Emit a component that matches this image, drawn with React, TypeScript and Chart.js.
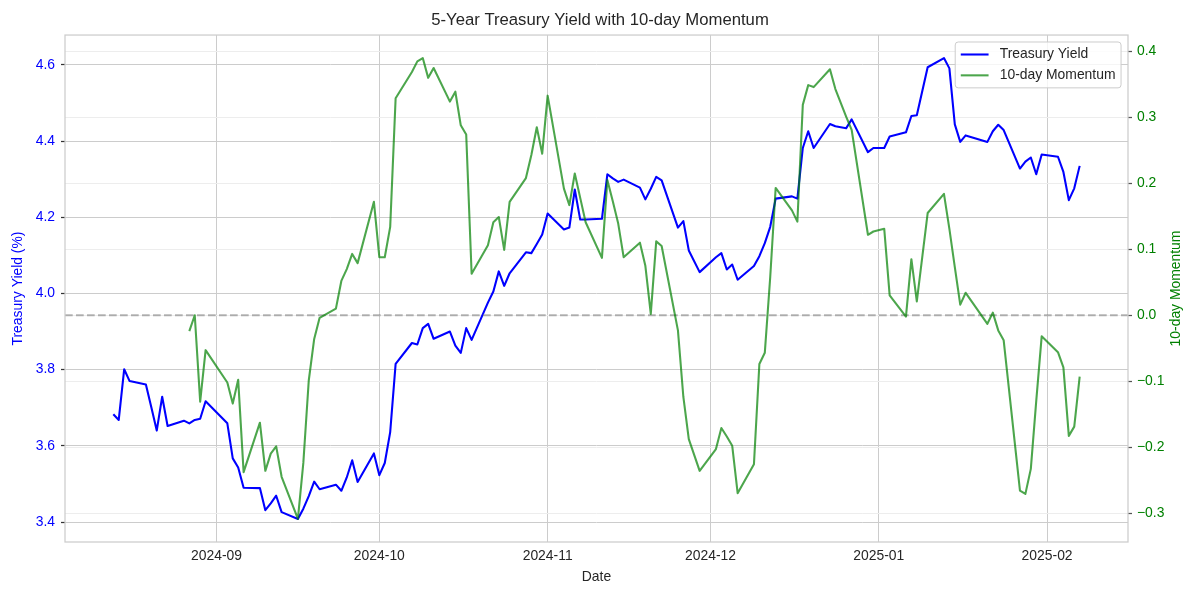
import React, { useEffect, useRef } from 'react';
import { Chart, registerables } from 'chart.js';

Chart.register(...registerables);

// ---------- data ----------
const dates: string[] = [
  '2024-08-13', '2024-08-14', '2024-08-15', '2024-08-16', '2024-08-19', '2024-08-20', '2024-08-21', '2024-08-22', '2024-08-23', '2024-08-26', '2024-08-27', '2024-08-28', '2024-08-29', '2024-08-30',
  '2024-09-03', '2024-09-04', '2024-09-05', '2024-09-06', '2024-09-09', '2024-09-10', '2024-09-11', '2024-09-12', '2024-09-13', '2024-09-16', '2024-09-17', '2024-09-18', '2024-09-19', '2024-09-20', '2024-09-23', '2024-09-24', '2024-09-25', '2024-09-26', '2024-09-27', '2024-09-30',
  '2024-10-01', '2024-10-02', '2024-10-03', '2024-10-04', '2024-10-07', '2024-10-08', '2024-10-09', '2024-10-10', '2024-10-11', '2024-10-14', '2024-10-15', '2024-10-16', '2024-10-17', '2024-10-18', '2024-10-21', '2024-10-22', '2024-10-23', '2024-10-24', '2024-10-25', '2024-10-28', '2024-10-29', '2024-10-30', '2024-10-31',
  '2024-11-01', '2024-11-04', '2024-11-05', '2024-11-06', '2024-11-07', '2024-11-08', '2024-11-11', '2024-11-12', '2024-11-13', '2024-11-14', '2024-11-15', '2024-11-18', '2024-11-19', '2024-11-20', '2024-11-21', '2024-11-22', '2024-11-25', '2024-11-26', '2024-11-27', '2024-11-29',
  '2024-12-02', '2024-12-03', '2024-12-04', '2024-12-05', '2024-12-06', '2024-12-09', '2024-12-10', '2024-12-11', '2024-12-12', '2024-12-13', '2024-12-16', '2024-12-17', '2024-12-18', '2024-12-19', '2024-12-20', '2024-12-23', '2024-12-24', '2024-12-26', '2024-12-27', '2024-12-30', '2024-12-31',
  '2025-01-02', '2025-01-03', '2025-01-06', '2025-01-07', '2025-01-08', '2025-01-10', '2025-01-13', '2025-01-14', '2025-01-15', '2025-01-16', '2025-01-17', '2025-01-21', '2025-01-22', '2025-01-23', '2025-01-24', '2025-01-27', '2025-01-28', '2025-01-29', '2025-01-30', '2025-01-31',
  '2025-02-03', '2025-02-04', '2025-02-05', '2025-02-06', '2025-02-07',
];

const treasuryYield: number[] = [
  3.683, 3.668, 3.801, 3.770, 3.761, 3.701, 3.640, 3.729, 3.652, 3.666, 3.659, 3.668, 3.671, 3.717,
  3.659, 3.567, 3.543, 3.490, 3.489, 3.431, 3.449, 3.469, 3.426, 3.408, 3.435, 3.468, 3.506, 3.486, 3.498, 3.482, 3.517, 3.562, 3.505, 3.580,
  3.523, 3.555, 3.636, 3.815, 3.870, 3.866, 3.909, 3.920, 3.881, 3.900, 3.863, 3.844, 3.909, 3.878, 3.976, 4.005, 4.058, 4.020, 4.053, 4.108, 4.106, 4.130, 4.155,
  4.210, 4.168, 4.173, 4.273, 4.194, 4.194, 4.196, 4.313, 4.302, 4.293, 4.299, 4.278, 4.247, 4.275, 4.306, 4.297, 4.173, 4.190, 4.113, 4.056,
  4.095, 4.106, 4.063, 4.076, 4.036, 4.072, 4.098, 4.132, 4.175, 4.249, 4.255, 4.249, 4.382, 4.426, 4.382, 4.445, 4.439, 4.434, 4.457, 4.371, 4.382,
  4.382, 4.412, 4.423, 4.466, 4.468, 4.594, 4.618, 4.591, 4.444, 4.398, 4.415, 4.398, 4.426, 4.443, 4.429, 4.328, 4.346, 4.357, 4.313, 4.365,
  4.359, 4.319, 4.245, 4.276, 4.335,
];

const momentum10d: (number | null)[] = [
  null, null, null, null, null, null, null, null, null, null, -0.024, 0.000, -0.131, -0.053,
  -0.102, -0.134, -0.098, -0.238, -0.163, -0.236, -0.210, -0.199, -0.245, -0.309, -0.224, -0.099, -0.036, -0.004, 0.010, 0.052, 0.070, 0.093, 0.079, 0.172,
  0.088, 0.088, 0.134, 0.329, 0.369, 0.385, 0.390, 0.360, 0.375, 0.324, 0.339, 0.288, 0.274, 0.063, 0.106, 0.141, 0.149, 0.099, 0.172, 0.208, 0.243, 0.285, 0.245,
  0.333, 0.192, 0.167, 0.215, 0.178, 0.141, 0.087, 0.205, 0.173, 0.139, 0.088, 0.110, 0.075, 0.002, 0.112, 0.105, -0.023, -0.124, -0.188, -0.236,
  -0.203, -0.171, -0.184, -0.198, -0.270, -0.226, -0.074, -0.057, 0.058, 0.193, 0.159, 0.142, 0.319, 0.349, 0.346, 0.373, 0.343, 0.301, 0.281, 0.122, 0.127,
  0.131, 0.030, -0.002, 0.085, 0.021, 0.155, 0.184, 0.131, 0.073, 0.016, 0.034, -0.013, 0.004, -0.023, -0.038, -0.266, -0.271, -0.233, -0.130, -0.032,
  -0.056, -0.079, -0.183, -0.169, -0.093,
];

const monthTickLabels: string[] = ['2024-09', '2024-10', '2024-11', '2024-12', '2025-01', '2025-02'];
const yieldTicks: number[] = [3.4, 3.6, 3.8, 4.0, 4.2, 4.4, 4.6];
const momentumTicks: number[] = [-0.3, -0.2, -0.1, 0.0, 0.1, 0.2, 0.3, 0.4];
const zeroLevel = 0;

const seriesNames = ['Treasury Yield', '10-day Momentum'];
const titleText = '5-Year Treasury Yield with 10-day Momentum';
const rightAxisTitle = '10-day Momentum';

// ---------- styling ----------
const FONT = "'Liberation Sans', Arial, Helvetica, sans-serif";
const TEXT = '#262626';
const BLUE = '#0000ff';
const GREEN_LINE = 'rgba(0,128,0,0.7)';
const GREEN_TEXT = '#008000';
const FS = 13.9;

const toTime = (s: string) => {
  const [y, m, d] = s.split('-').map(Number);
  return Date.UTC(y, m - 1, d);
};

const withMargin = (lo: number, hi: number) => {
  const span = hi - lo;
  return [lo - 0.05 * span, hi + 0.05 * span];
};

const fmtMomentum = (v: number) => {
  const s = Math.abs(v).toFixed(1);
  return v < -1e-9 ? '\u2212' + s : s;
};

const zeroLinePlugin = {
  id: 'zeroLine',
  afterDatasetDraw(chart: any, args: any) {
    if (args.index !== 0) return;
    const { ctx, chartArea } = chart;
    const y = chart.scales.y1.getPixelForValue(zeroLevel);
    ctx.save();
    ctx.beginPath();
    ctx.rect(chartArea.left, chartArea.top, chartArea.right - chartArea.left, chartArea.bottom - chartArea.top);
    ctx.clip();
    ctx.strokeStyle = 'rgba(128,128,128,0.6)';
    ctx.lineWidth = 2;
    ctx.setLineDash([7.7, 3.3]);
    ctx.beginPath();
    ctx.moveTo(chartArea.left, y);
    ctx.lineTo(chartArea.right, y);
    ctx.stroke();
    ctx.restore();
  },
};

const framePlugin = {
  id: 'frame',
  afterDatasetsDraw(chart: any) {
    const { ctx, chartArea } = chart;
    ctx.save();
    ctx.strokeStyle = '#cccccc';
    ctx.lineWidth = 1.25;
    ctx.strokeRect(chartArea.left, chartArea.top, chartArea.right - chartArea.left, chartArea.bottom - chartArea.top);
    ctx.restore();
  },
};

// right-hand axis title, reading bottom-to-top like matplotlib's ylabel
const rightTitlePlugin = {
  id: 'rightTitle',
  afterDraw(chart: any) {
    const { ctx, chartArea } = chart;
    const s = chart.scales.y1;
    const lineHeight = FS * 1.2;
    const x = s.right - (lineHeight / 2 + 15.7);
    const y = (chartArea.top + chartArea.bottom) / 2;
    ctx.save();
    ctx.translate(x, y);
    ctx.rotate(-Math.PI / 2);
    ctx.font = `${FS}px ${FONT}`;
    ctx.fillStyle = GREEN_TEXT;
    ctx.textAlign = 'center';
    ctx.textBaseline = 'middle';
    ctx.fillText(rightAxisTitle, 0, 0);
    ctx.restore();
  },
};

const legendPlugin = {
  id: 'mplLegend',
  afterDraw(chart: any) {
    const { ctx, chartArea } = chart;
    ctx.save();
    ctx.font = `${FS}px ${FONT}`;
    const textW = Math.max(...seriesNames.map((n) => ctx.measureText(n).width));
    const pad = 0.4 * FS;
    const handleLen = 2.0 * FS;
    const handlePad = 0.8 * FS;
    const spacing = 0.5 * FS;
    const axPad = 0.5 * FS;
    const rowH = FS;
    const w = pad + handleLen + handlePad + textW + pad;
    const h = 2 * pad + 2 * rowH + spacing;
    const right = chartArea.right - axPad;
    const left = right - w;
    const top = chartArea.top + axPad;
    ctx.beginPath();
    if ((ctx as any).roundRect) (ctx as any).roundRect(left, top, w, h, 3);
    else ctx.rect(left, top, w, h);
    ctx.fillStyle = 'rgba(255,255,255,0.8)';
    ctx.fill();
    ctx.strokeStyle = '#cccccc';
    ctx.lineWidth = 1;
    ctx.stroke();
    const colors = [BLUE, GREEN_LINE];
    seriesNames.forEach((name, i) => {
      const cy = top + pad + rowH / 2 + i * (rowH + spacing);
      ctx.strokeStyle = colors[i];
      ctx.lineWidth = 2.08;
      ctx.beginPath();
      ctx.moveTo(left + pad, cy);
      ctx.lineTo(left + pad + handleLen, cy);
      ctx.stroke();
      ctx.fillStyle = TEXT;
      ctx.textAlign = 'left';
      ctx.textBaseline = 'middle';
      ctx.fillText(name, left + pad + handleLen + handlePad, cy);
    });
    ctx.restore();
  },
};

export default function App() {
  const canvasRef = useRef<HTMLCanvasElement | null>(null);

  useEffect(() => {
    if (!canvasRef.current) return;
    const times = dates.map(toTime);
    const [xMin, xMax] = withMargin(times[0], times[times.length - 1]);
    const [yMin, yMax] = withMargin(Math.min(...treasuryYield), Math.max(...treasuryYield));
    const mVals = momentum10d.filter((v): v is number => v !== null);
    const [mMin, mMax] = withMargin(Math.min(...mVals), Math.max(...mVals));

    const font = { family: FONT, size: FS };

    const chart = new Chart(canvasRef.current, {
      type: 'line',
      data: {
        datasets: [
          {
            label: seriesNames[0],
            data: times.map((t, i) => ({ x: t, y: treasuryYield[i] })),
            borderColor: BLUE,
            backgroundColor: BLUE,
            borderWidth: 2.08,
            pointRadius: 0,
            tension: 0,
            yAxisID: 'y',
            order: 2,
            borderJoinStyle: 'round',
          },
          {
            label: seriesNames[1],
            data: times.map((t, i) => ({ x: t, y: momentum10d[i] })),
            borderColor: GREEN_LINE,
            backgroundColor: GREEN_LINE,
            borderWidth: 2.08,
            pointRadius: 0,
            tension: 0,
            yAxisID: 'y1',
            order: 1,
            spanGaps: false,
            borderJoinStyle: 'round',
          },
        ],
      } as any,
      options: {
        responsive: false,
        animation: false,
        events: [],
        layout: { padding: 0 },
        plugins: {
          legend: { display: false },
          tooltip: { enabled: false },
          title: {
            display: true,
            text: titleText,
            color: TEXT,
            font: { family: FONT, size: 16.7, weight: 'normal' },
            padding: { top: 10, bottom: 5 },
          },
        },
        scales: {
          x: {
            type: 'linear',
            position: 'bottom',
            min: xMin,
            max: xMax,
            bounds: 'data',
            afterBuildTicks: (s: any) => {
              s.ticks = monthTickLabels.map((l) => ({ value: toTime(l + '-01') }));
            },
            afterFit: (s: any) => {
              s.height = 58;
            },
            ticks: {
              autoSkip: false,
              maxRotation: 0,
              minRotation: 0,
              padding: 6,
              color: TEXT,
              font,
              callback: (_v: any, i: number) => monthTickLabels[i],
            },
            grid: { color: '#cccccc', lineWidth: 1, drawTicks: false },
            border: { display: false },
            title: { display: true, text: 'Date', color: TEXT, font, padding: { top: 0, bottom: 14.2 } },
          },
          y: {
            type: 'linear',
            position: 'left',
            min: yMin,
            max: yMax,
            bounds: 'data',
            afterBuildTicks: (s: any) => {
              s.ticks = yieldTicks.map((v) => ({ value: v }));
            },
            afterFit: (s: any) => {
              s.width = 65;
            },
            ticks: {
              padding: 6,
              color: BLUE,
              font,
              callback: (v: any) => Number(v).toFixed(1),
            },
            grid: { color: '#cccccc', lineWidth: 1, drawTicks: true, tickLength: 4, tickColor: '#333333', tickWidth: 1.25 },
            border: { display: false },
            title: { display: true, text: 'Treasury Yield (%)', color: BLUE, font, padding: { top: 10, bottom: 0 } },
          },
          y1: {
            type: 'linear',
            position: 'right',
            min: mMin,
            max: mMax,
            bounds: 'data',
            afterBuildTicks: (s: any) => {
              s.ticks = momentumTicks.map((v) => ({ value: v }));
            },
            afterFit: (s: any) => {
              s.width = 72;
            },
            ticks: {
              padding: 5,
              color: GREEN_TEXT,
              font,
              callback: (v: any) => fmtMomentum(Number(v)),
            },
            grid: { color: '#ededed', lineWidth: 1, drawTicks: true, tickLength: 4, tickColor: '#555555', tickWidth: 1.25 },
            border: { display: false },
            title: { display: false },
          },
        },
      } as any,
      plugins: [zeroLinePlugin, framePlugin, rightTitlePlugin, legendPlugin],
    });

    return () => chart.destroy();
  }, []);

  return (
    <div style={{ position: 'fixed', left: 0, top: 0, width: 1200, height: 600, background: '#ffffff' }}>
      <canvas ref={canvasRef} width={1200} height={600} style={{ width: 1200, height: 600, display: 'block' }} />
    </div>
  );
}
